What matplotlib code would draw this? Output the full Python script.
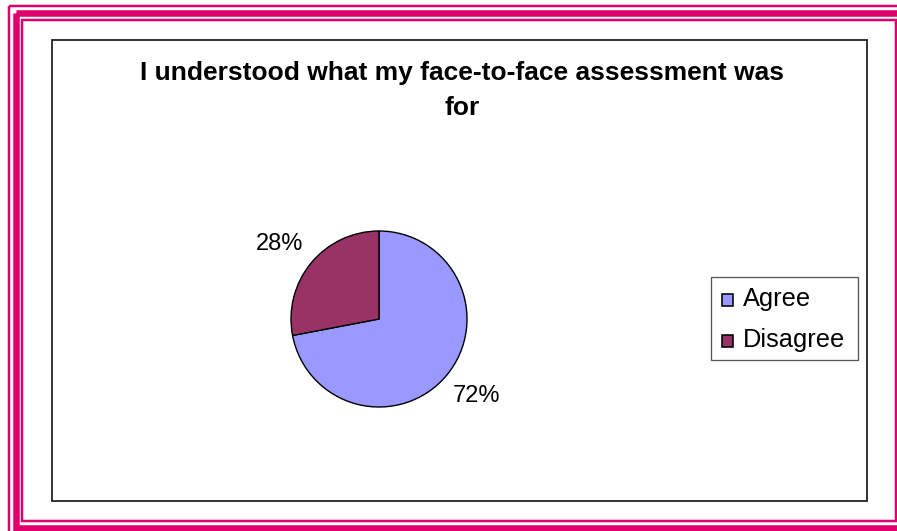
import matplotlib.pyplot as plt
from matplotlib.patches import Rectangle

# Survey answers
labels = ['Agree', 'Disagree']
shares = [72, 28]
colors = ['#9999FF', '#993366']
title_lines = ['I understood what my face-to-face assessment was', 'for']

W, H = 897, 531
plt.rcParams['font.family'] = ['Liberation Sans', 'DejaVu Sans']

fig = plt.figure(figsize=(W / 100, H / 100), dpi=100)
ax = fig.add_axes([0, 0, 1, 1])
ax.set_xlim(0, W)
ax.set_ylim(H, 0)
ax.axis('off')

pink = '#E0006C'
px = 72 / 100  # points per pixel


def frame(x0, y0, x1, y1, lw_px, color=pink):
    ax.add_patch(Rectangle((x0, y0), x1 - x0, y1 - y0, fill=False,
                           edgecolor=color, linewidth=lw_px * px))


# triple pink border (outer two run off the right and bottom)
frame(9, 6, 910, 540, 2.5)
frame(16, 13, 910, 528, 6.5)
frame(22, 20, 895.5, 521, 2.5)

# chart area box
frame(52, 40, 867, 501, 1.8, color='#222222')

ax.text(462, 80, title_lines[0], ha='center', va='baseline', fontsize=19,
        fontweight='bold')
ax.text(462, 115, title_lines[1], ha='center', va='baseline', fontsize=19,
        fontweight='bold')

# pie on its own axes so the orientation is normal
cx, cy, r = 379, 319, 88
pad = 160
pax = fig.add_axes([(cx - pad) / W, (H - cy - pad) / H, 2 * pad / W, 2 * pad / H])
pax.pie(shares, colors=colors, startangle=90, counterclock=False,
        radius=r / pad, wedgeprops=dict(edgecolor='black', linewidth=1.0))
pax.set_xlim(-1, 1)
pax.set_ylim(-1, 1)
pax.set_aspect('equal')
pax.axis('off')

# percentage labels
for pos, s in zip([(476, 402), (280, 250)], shares):
    ax.text(pos[0], pos[1], f'{s}%', ha='center', va='baseline', fontsize=17)

# legend
frame(711, 277, 858, 360, 1.3, color='#555555')
for i, (lab, col) in enumerate(zip(labels, colors)):
    base = 306 + i * 41
    ax.add_patch(Rectangle((721.5, base - 12.5), 11.5, 12.5, facecolor=col,
                           edgecolor='black', linewidth=1.6 * px))
    ax.text(743, base, lab, ha='left', va='baseline', fontsize=18.3)

fig.savefig('out.png', dpi=100)
